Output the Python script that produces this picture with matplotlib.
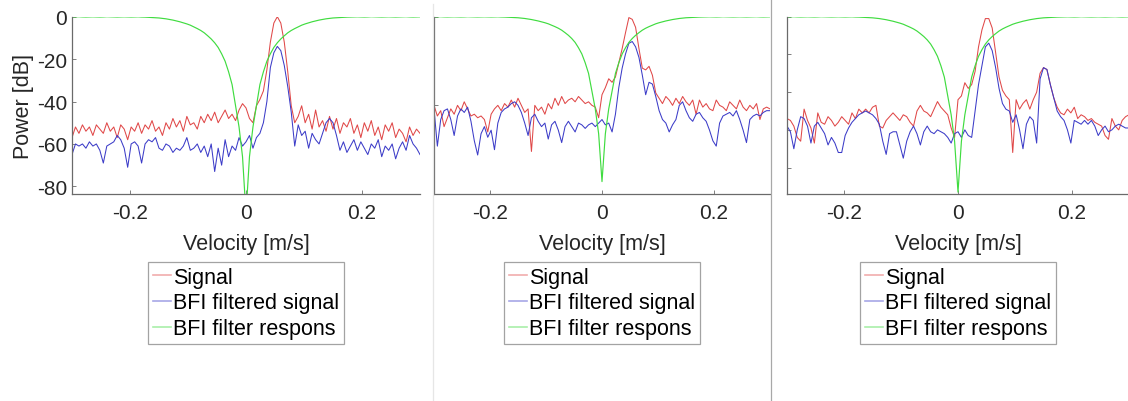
#! /usr/bin/env python3
# BFI filter example: spectrum before/after the filter, three cases side by side

import matplotlib
matplotlib.use('Agg')
import matplotlib.pyplot as plt
from matplotlib.lines import Line2D
import numpy as np

plt.rcParams['font.family'] = ['Liberation Sans', 'DejaVu Sans']

# velocity grid, 101 bins over +-0.3 m/s
velocity = np.linspace(-0.3, 0.3, 101)

# filter response [dB], same filter in all three cases
filter_resp = [
    -0.1, -0.05, 0.0, -0.1, -0.15, -0.1, -0.05, -0.1, -0.15, -0.1,
    0.0, -0.05, -0.1, -0.15, -0.1, -0.05, -0.1, -0.15, -0.1, -0.05,
    -0.15, -0.2, -0.3, -0.4, -0.5, -0.6, -0.8, -1.0, -1.3, -1.6,
    -2.0, -2.4, -2.9, -3.4, -4.0, -4.8, -5.6, -6.5, -7.6, -9.0,
    -10.5, -12.3, -14.5, -17.5, -21.0, -26.0, -32.0, -42.0, -52.0, -66.0,
    -93.0,
    -66.0, -52.0, -42.0, -32.0, -26.0, -21.0, -17.5, -14.5, -12.3, -10.5,
    -9.0, -7.6, -6.5, -5.6, -4.8, -4.0, -3.4, -2.9, -2.4, -2.0,
    -1.6, -1.3, -1.0, -0.8, -0.6, -0.5, -0.4, -0.3, -0.2, -0.15,
    -0.1, -0.05, -0.1, -0.15, -0.1, 0.0, -0.05, -0.1, -0.15, -0.1,
    -0.05, -0.1, -0.15, -0.1, -0.05, 0.0, -0.1, -0.15, -0.1, -0.05,
]

# case 1: single flow peak
signal_1 = [
    -57, -52, -55, -51, -54, -52, -56, -51, -53, -55,
    -50, -54, -52, -57, -51, -53, -58, -52, -54, -50,
    -55, -51, -53, -49, -54, -52, -56, -50, -53, -48,
    -52, -49, -54, -47, -51, -50, -53, -47, -50, -46,
    -49, -45, -50, -47, -44, -48, -46, -49, -44, -41,
    -43,
    -48, -50, -42, -39, -35, -25, -12, -3, 0, -3,
    -12, -26, -42, -50, -47, -42, -50, -46, -53, -44,
    -52, -49, -54, -47, -53, -48, -55, -50, -52, -48,
    -55, -51, -57, -50, -54, -49, -56, -52, -58, -51,
    -54, -50, -57, -53, -55, -59, -52, -56, -53, -55,
]
filtered_1 = [
    -65, -60, -61, -60, -62, -59, -61, -60, -63, -69,
    -61, -60, -59, -56, -58, -62, -71, -60, -59, -61,
    -69, -60, -58, -59, -57, -62, -63, -60, -61, -64,
    -62, -63, -61, -57, -63, -62, -60, -64, -61, -66,
    -60, -73, -62, -70, -58, -66, -61, -63, -57, -61,
    -59,
    -56, -62, -57, -55, -50, -40, -24, -17, -14, -16,
    -23, -33, -45, -61, -51, -56, -54, -62, -55, -58,
    -60, -55, -50, -48, -50, -56, -63, -59, -64, -61,
    -58, -63, -59, -62, -65, -60, -62, -58, -66, -61,
    -63, -60, -67, -62, -59, -63, -56, -60, -62, -65,
]

# case 2
signal_2 = [
    -50, -56, -53, -62, -57, -52, -55, -50, -53, -48,
    -52, -56, -55, -57, -56, -58, -65, -55, -52, -50,
    -53, -49, -51, -47, -51, -46, -50, -54, -52, -76,
    -50, -53, -51, -55, -49, -52, -46, -50, -45, -49,
    -47, -46, -48, -45, -47, -49, -48, -50, -51, -57,
    -44,
    -40, -35, -37, -34, -26, -18, -9, -0.5, -1.5, -6,
    -18, -29, -30, -28, -33, -43, -46, -49, -45, -47,
    -50, -46, -49, -45, -48, -50, -47, -55, -47, -51,
    -49, -52, -53, -47, -50, -51, -53, -48, -50, -52,
    -47, -51, -53, -50, -52, -49, -58, -52, -51, -52,
]
filtered_2 = [
    -52, -73, -58, -53, -52, -58, -67, -56, -52, -54,
    -51, -59, -70, -78, -66, -62, -68, -64, -75, -60,
    -54, -52, -51, -49, -48, -50, -54, -60, -67, -57,
    -55, -59, -62, -60, -69, -61, -59, -64, -71, -62,
    -59, -62, -65, -60, -61, -63, -61, -60, -62, -60,
    -58,
    -61, -60, -65, -55, -40, -29, -21, -15, -14, -17,
    -23, -33, -44, -37, -38, -45, -53, -58, -60, -65,
    -61, -58, -50, -48, -53, -57, -59, -55, -54, -57,
    -59, -64, -70, -73, -60, -56, -55, -54, -56, -53,
    -58, -64, -71, -58, -56, -55, -56, -54, -53, -53,
]

# case 3: extra peak around 0.15 m/s
signal_3 = [
    -54, -55, -58, -64, -66, -49, -55, -59, -67, -51,
    -56, -57, -53, -55, -58, -56, -53, -55, -57, -51,
    -54, -49, -51, -49, -51, -48, -47, -58, -59, -55,
    -53, -51, -53, -55, -52, -53, -56, -58, -50, -47,
    -50, -51, -53, -49, -45, -48, -50, -52, -59, -64,
    -44,
    -42, -35, -38, -36, -29, -16, -7, -1, -1, -6,
    -19, -32, -39, -42, -44, -72, -44, -49, -46, -44,
    -49, -44, -40, -30, -27, -28, -36, -43, -48, -51,
    -52, -49, -51, -48, -54, -52, -53, -55, -54, -56,
    -57, -58, -63, -65, -54, -58, -60, -55, -53, -52,
]
filtered_3 = [
    -58, -61, -70, -60, -53, -54, -58, -67, -58, -56,
    -59, -62, -68, -64, -67, -72, -72, -63, -59, -56,
    -54, -52, -51, -50, -51, -52, -54, -57, -66, -73,
    -62, -61, -61, -68, -75, -66, -61, -58, -62, -68,
    -61, -58, -61, -62, -60, -61, -62, -64, -67, -62,
    -61,
    -64, -60, -63, -64, -50, -36, -26, -16, -14, -18,
    -27, -38, -46, -49, -50, -56, -52, -60, -70, -57,
    -53, -55, -67, -33, -27, -28, -36, -43, -50, -53,
    -55, -60, -67, -55, -56, -57, -55, -57, -55, -58,
    -63, -60, -58, -61, -60, -58, -57, -58, -59, -59,
]

labels = ['Signal', 'BFI filtered signal', 'BFI filter respons']
colors = ['#e04848', '#3c3cc8', '#40dc40']
xticks = [-0.2, 0, 0.2]
xtick_labels = ['-0.2', '0', '0.2']

W, H = 1128, 402
fig = plt.figure(figsize=(W/100, H/100), dpi=100)

# left, right pixel edges of each axes; ylim and yticks per case
panels = [
    (72, 420, (-83.6, 0), [-80, -60, -40, -20, 0], signal_1, filtered_1),
    (434, 770, (-100, 0), [-100, -50, 0], signal_2, filtered_2),
    (787, 1129, (-94, 0), [-80, -60, -40, -20, 0], signal_3, filtered_3),
]
top_px, bottom_px = 17.7, 195

for k, (x0, x1, ylim, yticks, sig, filt) in enumerate(panels):
    ax = fig.add_axes([x0/W, 1 - bottom_px/H, (x1 - x0)/W, (bottom_px - top_px)/H])
    ax.plot(velocity, sig, color=colors[0], lw=0.75, label=labels[0])
    ax.plot(velocity, filt, color=colors[1], lw=0.75, label=labels[1])
    ax.plot(velocity, filter_resp, color=colors[2], lw=0.85, label=labels[2])

    ax.set_xlim(-0.3, 0.3)
    ax.set_ylim(*ylim)
    for s in ['top', 'right']:
        ax.spines[s].set_visible(False)
    for s in ['left', 'bottom']:
        ax.spines[s].set_color('#6a6a6a')
        ax.spines[s].set_linewidth(0.9)
    ax.tick_params(direction='in', length=3, width=0.6, colors='#6a6a6a',
                   labelcolor='#262626', labelsize=15)
    ax.tick_params(axis='x', pad=6.5)
    ax.set_xticks(xticks)
    ax.set_xticklabels(xtick_labels)
    ax.set_yticks(yticks)
    if k == 0:
        ax.set_yticklabels([str(t) for t in yticks])
        ax.set_ylabel('Power [dB]', fontsize=15.5, color='#262626', labelpad=2)
    else:
        ax.set_yticklabels([])
    ax.set_xlabel('Velocity [m/s]', fontsize=15.5, color='#262626', labelpad=8)

    leg = ax.legend(loc='upper center', bbox_to_anchor=(0.5, -0.383),
                    borderaxespad=0, fontsize=15.5, frameon=True, fancybox=False,
                    handlelength=0.85, handletextpad=0.1, labelspacing=0.22,
                    borderpad=0.22)
    leg.get_frame().set_edgecolor('#8c8c8c')
    leg.get_frame().set_linewidth(0.9)
    for h in leg.get_lines():
        h.set_alpha(0.45)
        h.set_linewidth(1.2)

# thin borders between the pasted panels
fig.add_artist(Line2D([432.5/W, 432.5/W], [0, 1 - 5/H], color='#e6e6e6', lw=0.9))
fig.add_artist(Line2D([771/W, 771/W], [0, 1], color='#a8a8a8', lw=0.9))

fig.savefig('out.png', dpi=100)
